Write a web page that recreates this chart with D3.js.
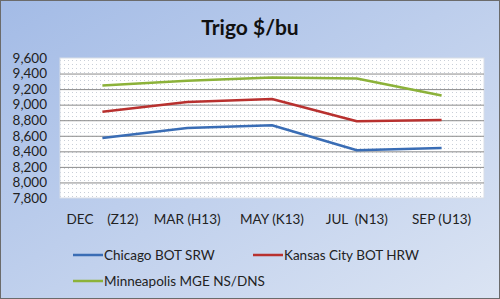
<!DOCTYPE html>
<html>
<head>
<meta charset="utf-8">
<script src="https://cdn.jsdelivr.net/npm/d3@7"></script>
<style>
body { margin:0; padding:0; overflow:hidden; }
text { font-family: Lato, "Open Sans", sans-serif; }
</style>
</head>
<body>
<script>
var categories = ["DEC    (Z12)", "MAR (H13)", "MAY (K13)", "JUL  (N13)", "SEP (U13)"];
var chicago = [8570, 8700, 8735, 8413, 8443];
var kansas = [8908, 9035, 9073, 8787, 8804];
var minneapolis = [9247, 9307, 9350, 9336, 9117];
var seriesNames = ["Chicago BOT SRW", "Kansas City BOT HRW", "Minneapolis MGE NS/DNS"];
var seriesColors = ["#3a6db5", "#b8312f", "#8cb23a"];
var yTicks = [7800, 8000, 8200, 8400, 8600, 8800, 9000, 9200, 9400, 9600];

var width = 500, height = 299;

var svg = d3.select("body").append("svg")
	.attr("width", width).attr("height", height);

var defs = svg.append("defs");
var bg = defs.append("linearGradient").attr("id", "bg")
	.attr("x1", "0").attr("y1", "0").attr("x2", "1").attr("y2", "1");
bg.append("stop").attr("offset", "0%").attr("stop-color", "#a3bbe6");
bg.append("stop").attr("offset", "100%").attr("stop-color", "#dbe4f3");

var dots = defs.append("pattern").attr("id", "dots")
	.attr("width", 4).attr("height", 4).attr("patternUnits", "userSpaceOnUse");
dots.append("rect").attr("width", 4).attr("height", 4).attr("fill", "#ffffff");
dots.append("rect").attr("x", 0).attr("y", 0).attr("width", 1).attr("height", 1).attr("fill", "#c9cfd8");

// background + border
svg.append("rect").attr("x", 0.5).attr("y", 0.5).attr("width", width - 1).attr("height", height - 1)
	.attr("fill", "url(#bg)").attr("stroke", "#6b6b6b").attr("stroke-width", 1);

svg.append("text").attr("x", 250).attr("y", 35).attr("text-anchor", "middle")
	.style("font-size", "21px").style("font-weight", "bold").attr("fill", "#111").text("Trigo $/bu");

var plot = { left: 60, top: 58, right: 484, bottom: 198 };

var x = d3.scaleBand().domain(categories).range([plot.left, plot.right]);
var y = d3.scaleLinear().domain([7800, 9600]).range([plot.bottom, plot.top]);

svg.append("rect").attr("x", plot.left).attr("y", plot.top)
	.attr("width", plot.right - plot.left).attr("height", plot.bottom - plot.top)
	.attr("fill", "url(#dots)").attr("stroke", "#d8dde6");

// gridlines
svg.append("g").selectAll("line").data(yTicks.slice(1, -1)).enter().append("line")
	.attr("x1", plot.left).attr("x2", plot.right)
	.attr("y1", function (d) { return y(d) + 0.5; }).attr("y2", function (d) { return y(d) + 0.5; })
	.attr("stroke", "#8a8a8a").attr("stroke-width", 1);

// y axis
var yAxis = svg.append("g").attr("transform", "translate(" + plot.left + ",0)")
	.call(d3.axisLeft(y).tickValues(yTicks).tickSize(0).tickPadding(13).tickFormat(d3.format(",")));
yAxis.select(".domain").remove();
yAxis.selectAll("text").style("font-size", "13.5px").attr("fill", "#222").style("font-family", "Lato, sans-serif");

// x axis
var xAxis = svg.append("g").attr("transform", "translate(0," + plot.bottom + ")")
	.call(d3.axisBottom(x).tickSize(0).tickPadding(16));
xAxis.select(".domain").remove();
xAxis.selectAll("text").style("font-size", "13.5px").attr("fill", "#222").style("white-space", "pre")
	.style("font-family", "Lato, sans-serif");

var line = d3.line()
	.x(function (d, i) { return x(categories[i]) + x.bandwidth() / 2; })
	.y(function (d) { return y(d); });

var allSeries = [chicago, kansas, minneapolis];
svg.append("g").selectAll("path").data(allSeries).enter().append("path")
	.attr("d", line).attr("fill", "none")
	.attr("stroke", function (d, i) { return seriesColors[i]; })
	.attr("stroke-width", 2.5).attr("stroke-linejoin", "round");

// legend
var legendPos = [[73, 255], [253, 255], [73, 281]];
var lg = svg.append("g").selectAll("g").data(seriesNames).enter().append("g")
	.attr("transform", function (d, i) { return "translate(" + legendPos[i][0] + "," + legendPos[i][1] + ")"; });
lg.append("line").attr("x1", 0).attr("x2", 30).attr("y1", 0).attr("y2", 0)
	.attr("stroke", function (d, i) { return seriesColors[i]; }).attr("stroke-width", 2.5);
lg.append("text").attr("x", 31).attr("y", 5).style("font-size", "13.5px").attr("fill", "#222").text(function (d) { return d; });
</script>
</body>
</html>
